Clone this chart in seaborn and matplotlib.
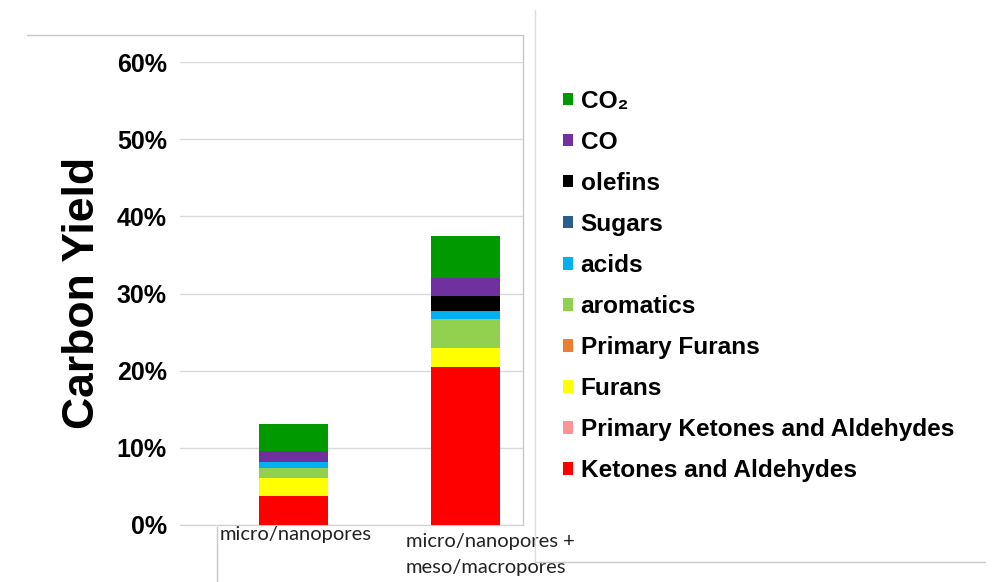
import numpy as np
import matplotlib
matplotlib.use("Agg")
import matplotlib.pyplot as plt
import seaborn as sns
from matplotlib.patches import Patch
from matplotlib.lines import Line2D
from matplotlib.ticker import PercentFormatter
from matplotlib.transforms import ScaledTranslation

# Data (carbon yield, %), stacked bottom -> top
categories = ['micro/nanopores', 'micro/nanopores +\nmeso/macropores']
species = ['Ketones and Aldehydes', 'Primary Ketones and Aldehydes', 'Furans',
           'Primary Furans', 'aromatics', 'acids', 'Sugars', 'olefins', 'CO', 'CO₂']
ketones = [3.80, 20.43]
primary_ketones = [0.0, 0.0]
furans = [2.33, 2.46]
primary_furans = [0.0, 0.0]
aromatics = [1.22, 3.80]
acids = [0.85, 1.08]
sugars = [0.0, 0.0]
olefins = [0.0, 1.94]
co = [1.39, 2.29]
co2 = [3.46, 5.48]
colors = ['#FF0000', '#FF9393', '#FFFF00', '#ED7D31', '#92D050',
          '#00B0F0', '#2A5E8E', '#000000', '#7030A0', '#009900']

sns.set_style("white")
plt.rcParams['font.family'] = ['Liberation Sans', 'DejaVu Sans']
plt.rcParams['text.color'] = 'black'
plt.rcParams['ytick.color'] = 'black'
plt.rcParams['xtick.color'] = 'black'

W, H = 992, 582
fig = plt.figure(figsize=(W / 100, H / 100), dpi=100)
ax = fig.add_axes([180 / W, 1 - 525 / H, 343 / W, 463 / H])

# stacked bars: draw cumulative totals from the top layer down
layers = np.array([ketones, primary_ketones, furans, primary_furans, aromatics,
                   acids, sugars, olefins, co, co2])
cum = np.cumsum(layers, axis=0)
for i in reversed(range(len(species))):
    sns.barplot(x=categories, y=cum[i], color=colors[i], width=0.4, saturation=1,
                linewidth=0, errorbar=None, ax=ax, zorder=3)

ax.set_ylim(0, 60)
ax.set_xlim(-0.66, 1.334)
ax.set_yticks(np.arange(0, 61, 10))
ax.yaxis.set_major_formatter(PercentFormatter(xmax=100, decimals=0))
ax.grid(axis='y', color='#d9d9d9', linewidth=1, zorder=0)
ax.set_axisbelow(True)
for s in ['top', 'right', 'left']:
    ax.spines[s].set_visible(False)
ax.spines['bottom'].set_color('#d0d0d0')
ax.set_xlabel('')
ax.set_ylabel('')
ax.tick_params(axis='y', length=0, pad=9.5, labelsize=18)
for lab in ax.get_yticklabels():
    lab.set_fontweight('bold')

ax.tick_params(axis='x', length=0, pad=1)
ax.set_xticks([0, 1])
ax.set_xticklabels(categories, fontsize=14.5, family='Lato', color='#222222',
                   linespacing=1.6)
xl = ax.get_xticklabels()
xl[0].set_transform(xl[0].get_transform() + ScaledTranslation(0.02, 0, fig.dpi_scale_trans))
xl[1].set_horizontalalignment('left')
xl[1].set_transform(xl[1].get_transform() + ScaledTranslation(-0.60, -0.07, fig.dpi_scale_trans))

fig.text(82.5 / W, 1 - 293 / H, 'Carbon Yield', rotation=90, ha='center', va='center',
         fontsize=32, fontweight='bold')

# legend (top entry = top of stack)
handles = [Patch(facecolor=colors[i], edgecolor='none', label=species[i])
           for i in reversed(range(len(species)))]
fig.legend(handles=handles, loc='center left', bbox_to_anchor=(563 / W, 1 - 286 / H),
           frameon=False, borderpad=0, borderaxespad=0, handlelength=0.42,
           handleheight=0.42, handletextpad=0.3, labelspacing=0.74,
           prop={'weight': 'bold', 'size': 17.6})

# frame lines of the original composite
def fline(x0, y0, x1, y1, c):
    fig.add_artist(Line2D([x0 / W, x1 / W], [1 - y0 / H, 1 - y1 / H],
                          transform=fig.transFigure, color=c, linewidth=1))

fline(27, 35, 523, 35, '#c8c8c8')
fline(523, 35, 523, 525, '#c8c8c8')
fline(535, 10, 535, 562, '#dcdcdc')
fline(535, 562, 985, 562, '#c8c8c8')
fline(217, 527, 217, 582, '#c8c8c8')

fig.savefig('out.png', dpi=100)
